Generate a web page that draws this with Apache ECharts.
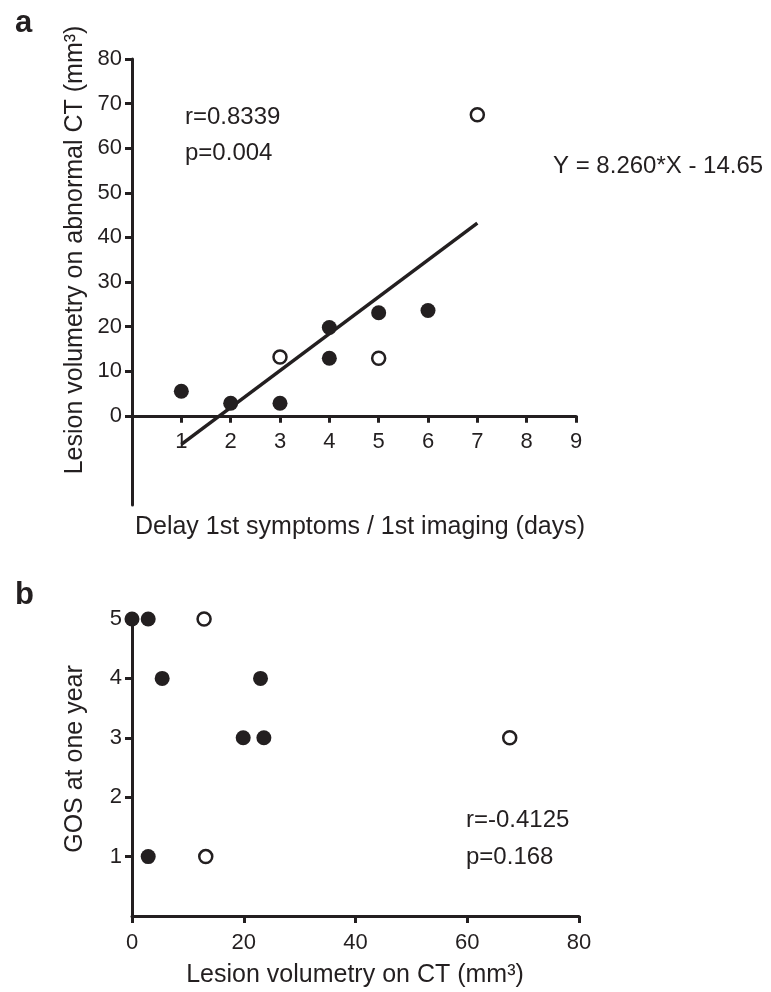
<!DOCTYPE html>
<html>
<head>
    <meta charset="UTF-8"/>
    <title>Lesion volumetry</title>
    <script type="text/javascript" src="https://cdn.jsdelivr.net/npm/echarts@6/dist/echarts.min.js"></script>
    <style>
        html, body { margin: 0; padding: 0; background: #fff; }
    </style>
</head>
<body>

<div id="main" style="width: 771px;height:992px;"></div>

<script type="text/javascript">
    // panel a : delay (days) vs lesion volume
    var aFilledX = [1, 2, 3, 4, 4, 5, 6];
    var aFilledY = [5.5, 2.8, 2.8, 19.8, 12.9, 23.1, 23.6];
    var aOpenX = [3, 5, 7];
    var aOpenY = [13.2, 12.9, 67.5];
    // regression line end points
    var fitX = [1, 7];
    var fitY = [-6.4, 43.2];
    var aXTicks = [1, 2, 3, 4, 5, 6, 7, 8, 9];
    var aYTicks = [0, 10, 20, 30, 40, 50, 60, 70, 80];

    // panel b : lesion volume vs GOS
    var bFilledX = [0, 2.9, 5.4, 23.0, 19.9, 23.6, 2.9];
    var bFilledY = [5, 5, 4, 4, 3, 3, 1];
    var bOpenX = [12.9, 67.6, 13.2];
    var bOpenY = [5, 3, 1];
    var bYTicks = [1, 2, 3, 4, 5];

    var ink = '#231f20';
    var font = '"Liberation Sans", Arial, Helvetica, sans-serif';

    function pairs(xs, ys) {
        return xs.map(function (x, i) { return [x, ys[i]]; });
    }

    function axisCommon() {
        return {
            type: 'value',
            splitLine: { show: false },
            axisLine: { show: true, onZero: false, lineStyle: { color: ink, width: 3 } },
            axisTick: { show: true, length: 7, lineStyle: { color: ink, width: 3 } },
            axisLabel: { color: ink, fontSize: 22, fontFamily: font }
        };
    }

    function merge(base, extra) {
        for (var k in extra) {
            if (typeof extra[k] === 'object' && !Array.isArray(extra[k]) && base[k]) {
                Object.assign(base[k], extra[k]);
            } else {
                base[k] = extra[k];
            }
        }
        return base;
    }

    var filledStyle = { color: ink, opacity: 1 };
    var openStyle = { color: '#fff', borderColor: ink, borderWidth: 2.5, opacity: 1 };

    var myChart = echarts.init(document.getElementById('main'));

    // grid a spans y -20..80, the x axis sits on y = 0 (offset up from the grid bottom)
    var gridAHeight = 446;
    var aZeroOffset = -gridAHeight * 20 / 100;

    var option = {
        backgroundColor: '#fff',
        animation: false,
        textStyle: { fontFamily: font, color: ink },
        grid: [
            { left: 132, top: 59, width: 444, height: gridAHeight },
            { left: 132, top: 619, width: 447, height: 297 }
        ],
        xAxis: [
            merge(axisCommon(), {
                gridIndex: 0, min: 0, max: 9, offset: aZeroOffset,
                axisTick: { customValues: aXTicks },
                axisLabel: { customValues: aXTicks, margin: 15 }
            }),
            merge(axisCommon(), {
                gridIndex: 1, min: 0, max: 80, interval: 20,
                axisLabel: { margin: 16 }
            })
        ],
        yAxis: [
            merge(axisCommon(), {
                gridIndex: 0, min: -20, max: 80,
                axisTick: { customValues: aYTicks },
                axisLabel: { customValues: aYTicks, margin: 10 }
            }),
            merge(axisCommon(), {
                gridIndex: 1, min: 0, max: 5,
                axisTick: { customValues: bYTicks },
                axisLabel: { customValues: bYTicks, margin: 10 }
            })
        ],
        series: [
            {
                type: 'line', xAxisIndex: 0, yAxisIndex: 0,
                data: pairs(fitX, fitY), symbol: 'none',
                lineStyle: { color: ink, width: 3.5 }, z: 2
            },
            {
                type: 'scatter', xAxisIndex: 0, yAxisIndex: 0, clip: false,
                data: pairs(aFilledX, aFilledY), symbolSize: 15,
                itemStyle: filledStyle, z: 3
            },
            {
                type: 'scatter', xAxisIndex: 0, yAxisIndex: 0, clip: false,
                data: pairs(aOpenX, aOpenY), symbolSize: 13,
                itemStyle: openStyle, z: 3
            },
            {
                type: 'scatter', xAxisIndex: 1, yAxisIndex: 1, clip: false,
                data: pairs(bFilledX, bFilledY), symbolSize: 15,
                itemStyle: filledStyle, z: 3
            },
            {
                type: 'scatter', xAxisIndex: 1, yAxisIndex: 1, clip: false,
                data: pairs(bOpenX, bOpenY), symbolSize: 13,
                itemStyle: openStyle, z: 3
            }
        ],
        graphic: [
            { type: 'text', left: 15, top: 8, style: { text: 'a', font: 'bold 31px ' + font, fill: ink } },
            { type: 'text', left: 15, top: 580, style: { text: 'b', font: 'bold 31px ' + font, fill: ink } },

            { type: 'text', x: 185, y: 117, style: { text: 'r=0.8339', font: '24px ' + font, fill: ink, textVerticalAlign: 'middle' } },
            { type: 'text', x: 185, y: 153, style: { text: 'p=0.004', font: '24px ' + font, fill: ink, textVerticalAlign: 'middle' } },
            { type: 'text', x: 553, y: 166, style: { text: 'Y = 8.260*X - 14.65', font: '24px ' + font, fill: ink, textVerticalAlign: 'middle' } },
            { type: 'text', x: 466, y: 820, style: { text: 'r=-0.4125', font: '24px ' + font, fill: ink, textVerticalAlign: 'middle' } },
            { type: 'text', x: 466, y: 857, style: { text: 'p=0.168', font: '24px ' + font, fill: ink, textVerticalAlign: 'middle' } },

            // axis titles
            { type: 'text', x: 360, y: 527, style: { text: 'Delay 1st symptoms / 1st imaging (days)', font: '25px ' + font, fill: ink, textAlign: 'center', textVerticalAlign: 'middle' } },
            { type: 'text', x: 75, y: 250, rotation: Math.PI / 2, style: { text: 'Lesion volumetry on abnormal CT (mm³)', font: '25px ' + font, fill: ink, textAlign: 'center', textVerticalAlign: 'middle' } },
            { type: 'text', x: 75, y: 759, rotation: Math.PI / 2, style: { text: 'GOS at one year', font: '25px ' + font, fill: ink, textAlign: 'center', textVerticalAlign: 'middle' } },
            { type: 'text', x: 355, y: 975, style: { text: 'Lesion volumetry on CT (mm³)', font: '25px ' + font, fill: ink, textAlign: 'center', textVerticalAlign: 'middle' } }
        ]
    };

    myChart.setOption(option);
</script>
</body>
</html>
